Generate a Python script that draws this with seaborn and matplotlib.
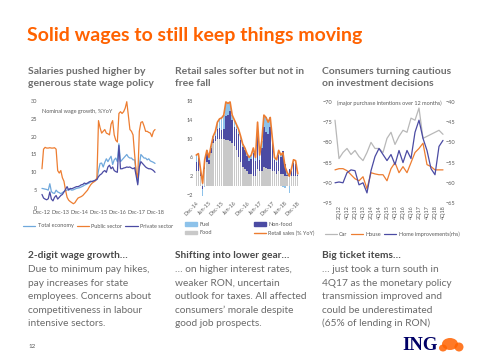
import numpy as np
import pandas as pd
import matplotlib
matplotlib.use("Agg")
import matplotlib.pyplot as plt
import seaborn as sns
from matplotlib.lines import Line2D
from matplotlib.patches import Patch, Ellipse

sns.set_theme(style="white")
plt.rcParams['font.family'] = ['Lato', 'DejaVu Sans']

# ---------------- data ----------------
# Chart 1: nominal wage growth, %YoY, monthly Dec-12 .. Dec-18
wage_ticks = ["Dec-12", "Dec-13", "Dec-14", "Dec-15", "Dec-16", "Dec-17", "Dec-18"]
total_economy = [5.5, 5.4, 5.3, 5.2, 5.0, 6.8, 4.6, 4.2, 4.1, 5.0, 4.5, 4.3, 4.0, 4.3, 4.6, 4.8,
                 5.0, 5.3, 5.2, 5.0, 5.1, 5.3, 5.5, 5.6, 5.7, 5.9, 6.1, 6.4, 6.6, 6.8, 7.0, 7.3,
                 7.5, 7.6, 7.8, 8.0, 10.5, 12.5, 12.6, 11.5, 12.8, 13.8, 13.0, 13.8, 14.5, 12.2,
                 13.5, 14.0, 13.0, 18.0, 13.0, 13.5, 14.0, 14.5, 15.0, 14.3, 14.0, 14.0, 13.5,
                 13.5, 10.0, 7.0, 12.0, 15.0, 14.5, 14.0, 14.0, 13.5, 13.8, 13.2, 13.0, 12.8, 12.5]
public_sector = [11.0, 16.5, 17.0, 16.8, 16.8, 16.9, 16.8, 16.8, 16.9, 16.5, 10.5, 9.8, 10.5, 8.5,
                 7.5, 5.0, 3.0, 2.2, 1.8, 1.5, 1.2, 1.5, 2.2, 2.8, 3.0, 3.2, 3.5, 4.0, 4.5, 5.0,
                 5.8, 6.5, 7.0, 7.3, 7.6, 8.5, 24.5, 22.5, 21.0, 21.5, 22.0, 21.0, 20.8, 20.5,
                 23.5, 24.5, 20.5, 19.0, 18.5, 26.5, 27.0, 26.5, 27.0, 28.0, 29.8, 26.0, 22.0,
                 21.5, 20.5, 15.0, 10.0, 8.5, 21.5, 24.0, 24.2, 23.0, 21.5, 21.5, 21.2, 21.0,
                 20.0, 21.5, 22.0]
private_sector = [3.8, 2.8, 2.5, 2.3, 2.6, 4.5, 2.5, 2.0, 3.0, 3.5, 2.5, 3.0, 3.5, 3.8, 4.5, 5.2,
                  6.0, 5.0, 5.5, 5.4, 5.6, 5.8, 6.0, 6.0, 6.2, 6.5, 6.6, 7.0, 6.8, 7.0, 7.3, 7.5,
                  7.4, 7.6, 7.8, 8.0, 8.8, 9.3, 9.6, 10.2, 10.5, 10.0, 11.5, 12.0, 11.0, 11.5,
                  10.5, 10.2, 10.0, 17.5, 11.0, 11.0, 11.2, 11.3, 11.5, 11.4, 11.5, 11.2, 11.0,
                  11.3, 9.0, 6.5, 11.5, 13.0, 12.5, 12.0, 11.5, 11.2, 11.0, 11.0, 10.8, 10.5, 10.0]
wage_series = ["Total economy", "Public sector", "Private sector"]

# Chart 2: retail sales contributions, monthly Dec-14 .. Dec-18
retail_ticks = ["Dec-14", "Jun-15", "Dec-15", "Jun-16", "Dec-16", "Jun-17", "Dec-17", "Jun-18", "Dec-18"]
food = [3.0, 3.0, 2.0, 1.0, 3.5, 5.0, 4.5, 7.0, 9.0, 9.5, 10.0, 10.0, 10.0, 10.0, 9.8, 9.8, 9.5,
        9.0, 8.5, 7.5, 6.0, 5.0, 4.0, 3.5, 3.0, 2.5, 2.5, 2.0, 2.0, 3.5, 3.0, 3.0, 4.0, 3.8, 3.5,
        3.5, 3.0, 3.0, 2.5, 3.0, 2.5, 2.5, 2.0, 2.0, 2.0, 2.0, 2.0, 2.0, 2.0]
non_food = [2.0, 2.8, 1.5, -0.8, 1.5, 2.0, 1.0, 1.0, 1.0, 1.0, 2.0, 2.2, 1.9, 2.0, 5.0, 5.2, 6.3,
            5.0, 4.0, 4.5, 5.0, 4.7, 4.3, 4.0, 3.3, 2.7, 3.2, 5.0, 3.2, 8.0, 2.5, 5.0, 8.5, 7.7,
            7.5, 9.0, 6.0, 2.5, 2.5, 3.5, 3.5, 4.8, 2.5, 0.3, 1.5, 1.2, 2.7, 2.5, 0.2]
fuel = [1.5, 1.0, 0.0, -1.8, -0.3, 0.5, 0.5, 0.5, 0.5, 1.0, 1.5, 2.0, 2.5, 3.0, 3.0, 2.5, 2.0,
        1.0, 1.5, 1.0, 1.0, 0.8, 0.5, 0.5, 0.5, 0.8, 0.8, 1.0, 0.8, 2.0, 1.0, 1.5, 2.5, 3.0, 2.5,
        2.0, 1.0, 0.5, 0.5, 1.0, 0.5, -0.3, -0.5, 0.5, -1.5, 0.3, 0.8, 0.8, 0.3]
retail_sales = [6.5, 6.8, 3.5, 0.5, 5.5, 7.5, 6.0, 8.5, 10.5, 11.5, 13.5, 14.2, 14.4, 15.0, 17.8,
                17.5, 17.8, 15.0, 14.0, 13.0, 12.0, 10.5, 8.8, 8.0, 6.8, 6.0, 6.5, 8.0, 6.0, 13.5,
                6.5, 9.5, 15.0, 14.5, 13.5, 14.5, 10.0, 6.0, 5.5, 7.5, 6.5, 7.0, 4.0, 2.8, 2.0,
                3.5, 5.5, 5.3, 2.5]

# Chart 3: major purchase intentions over 12 months, quarterly 1Q12 .. 4Q18
quarter_ticks = ["2Q12", "4Q12", "2Q13", "4Q13", "2Q14", "4Q14", "2Q15", "4Q15", "2Q16", "4Q16",
                 "2Q17", "4Q17", "2Q18", "4Q18"]
car = [-74.5, -84.0, -82.5, -81.5, -83.0, -82.0, -83.5, -84.5, -82.5, -80.0, -81.5, -81.5, -82.5,
       -79.0, -77.5, -80.5, -78.5, -77.0, -77.5, -74.0, -74.5, -71.5, -79.0, -78.5, -78.0, -77.5,
       -77.0, -78.0]
house = [-86.8, -86.5, -86.5, -87.0, -88.0, -89.0, -89.5, -88.5, -91.5, -87.5, -87.8, -88.0,
         -88.0, -89.5, -86.5, -85.0, -87.5, -86.0, -87.5, -85.0, -82.5, -81.5, -80.2, -85.5,
         -86.0, -86.8, -86.8, -86.8]
home_improvements = [-60.0, -59.8, -60.0, -57.5, -56.8, -57.0, -60.5, -60.0, -62.5, -57.0, -53.5,
                     -51.5, -53.0, -54.5, -53.0, -55.5, -52.0, -55.0, -52.0, -54.0, -47.5, -44.5,
                     -49.0, -52.0, -56.5, -58.0, -51.0, -49.5]

# ---------------- styling ----------------
ORANGE = "#FF6200"
C_LIGHT = "#6FA8DC"
C_ORANGE = "#ED7D31"
C_DARK = "#4B4BA3"
C_GREY = "#C9C9C9"
C_FUEL = "#8DC2EA"
C_CAR = "#B8B8B8"
TICK_C = "#5A5A5A"
TS = 4.0

W, H = 480, 360
fig = plt.figure(figsize=(4.8, 3.6), dpi=100)
fig.patch.set_facecolor("white")


def rect(l, t, r, b):
    return [l / W, 1 - b / H, (r - l) / W, (b - t) / H]


def ftext(x, y, s, **kw):
    kw.setdefault("va", "center")
    fig.text(x / W, 1 - y / H, s, **kw)


def clean(ax):
    for s in ax.spines.values():
        s.set_visible(False)
    ax.set_xlabel("")
    ax.set_ylabel("")
    ax.tick_params(labelsize=TS, length=0, pad=1.5, colors=TICK_C)
    ax.set_facecolor("none")


# ---------------- texts ----------------
ftext(27, 36, "Solid wages to still keep things moving", color=ORANGE, fontsize=14.0,
      fontweight="bold")
sub_c = "#6E6E6E"
SUB = 7.5
ftext(28, 72, "Salaries pushed higher by", color=sub_c, fontsize=SUB, fontweight="bold")
ftext(28, 83.5, "generous state wage policy", color=sub_c, fontsize=SUB, fontweight="bold")
ftext(175, 72, "Retail sales softer but not in", color=sub_c, fontsize=SUB, fontweight="bold")
ftext(175, 83.5, "free fall", color=sub_c, fontsize=SUB, fontweight="bold")
ftext(322, 72, "Consumers turning cautious", color=sub_c, fontsize=SUB, fontweight="bold")
ftext(322, 83.5, "on investment decisions", color=sub_c, fontsize=SUB, fontweight="bold")

head_c = "#4A4A4A"
body_c = "#6A6A6A"
cols = [
    (28, "2-digit wage growth…", ["Due to minimum pay hikes,", "pay increases for state",
                                  "employees. Concerns about", "competitiveness in labour",
                                  "intensive sectors."]),
    (175, "Shifting into lower gear…", ["… on higher interest rates,", "weaker RON, uncertain",
                                        "outlook for taxes. All affected",
                                        "consumers’ morale despite", "good job prospects."]),
    (322, "Big ticket items…", ["… just took a turn south in", "4Q17 as the monetary policy",
                                "transmission improved and", "could be underestimated",
                                "(65% of lending in RON)"]),
]
for x0, head, lines in cols:
    ftext(x0, 256, head, color=head_c, fontsize=7.3, fontweight="bold")
    for i, ln in enumerate(lines):
        ftext(x0, 270 + 13.4 * i, ln, color=body_c, fontsize=7.3)

ftext(28, 347, "12", color="#555555", fontsize=4.5)
ftext(402, 346, "ING", color="#000066", fontsize=13.5, fontweight="bold",
      family=["Liberation Serif", "DejaVu Serif"])
for (cx, cy, w, h) in [(450, 344, 16, 12), (459, 347, 9, 9), (443, 348, 8, 7)]:
    fig.patches.append(Ellipse((cx / W, 1 - cy / H), w / W, h / H, transform=fig.transFigure,
                               facecolor="#FF6200", edgecolor="none", alpha=0.85))

# ---------------- chart 1 ----------------
ax1 = fig.add_axes(rect(40.4, 101, 156.6, 208))
n1 = len(total_economy)
months = np.arange(n1)
df1 = pd.DataFrame({
    "month": np.tile(months, 3),
    "value": np.concatenate([total_economy, public_sector, private_sector]),
    "series": np.repeat(wage_series, n1),
})
pal1 = {"Total economy": C_LIGHT, "Public sector": C_ORANGE, "Private sector": C_DARK}
sns.lineplot(data=df1, x="month", y="value", hue="series", hue_order=wage_series,
             palette=pal1, linewidth=0.9, ax=ax1, legend=False)
ax1.set_xlim(-1, 73)
ax1.set_ylim(0, 30)
ax1.set_yticks(range(0, 31, 5))
ax1.set_xticks(range(0, 73, 12))
ax1.set_xticklabels(wage_ticks)
clean(ax1)
ax1.tick_params(axis="y", pad=2.5)
ax1.text(0.01, 0.9, "Nominal wage growth, %YoY", transform=ax1.transAxes, fontsize=TS,
         color=TICK_C, va="center")
h1 = [Line2D([], [], color=pal1[s], lw=0.9) for s in wage_series]
fig.legend(h1, wage_series, loc="center", bbox_to_anchor=(98 / W, 1 - 226 / H), ncol=3,
           fontsize=TS, frameon=False, handlelength=2.2, columnspacing=0.6, handletextpad=0.4,
           labelcolor=TICK_C)

# ---------------- chart 2 ----------------
ax2 = fig.add_axes(rect(195, 99.6, 299, 195.9))
n2 = len(retail_sales)
xm = np.arange(n2)
pos_base = np.zeros(n2)
neg_base = np.zeros(n2)
for vals, color in [(food, C_GREY), (non_food, C_DARK), (fuel, C_FUEL)]:
    v = np.asarray(vals, dtype=float)
    bottom = np.where(v >= 0, pos_base, neg_base)
    ax2.bar(xm, v, bottom=bottom, width=0.72, color=color, linewidth=0)
    pos_base += np.where(v >= 0, v, 0)
    neg_base += np.where(v < 0, v, 0)
sns.lineplot(x=xm, y=retail_sales, color=C_ORANGE, linewidth=1.2, ax=ax2)
ax2.set_xlim(-0.6, n2 - 0.4)
ax2.set_ylim(-2.2, 18.3)
ax2.set_yticks([-2, 2, 6, 10, 14, 18])
ax2.set_xticks(range(0, n2, 6))
ax2.set_xticklabels(retail_ticks, rotation=45, ha="right", rotation_mode="anchor")
clean(ax2)
ax2.tick_params(axis="x", pad=3)
h2 = [Patch(color=C_FUEL), Patch(color=C_GREY), Patch(color=C_DARK),
      Line2D([], [], color=C_ORANGE, lw=1.0)]
fig.legend(h2, ["Fuel", "Food", "Non-food", "Retail sales (% YoY)"], loc="upper left",
           bbox_to_anchor=(180 / W, 1 - 217 / H), ncol=2, fontsize=TS, frameon=False,
           handlelength=2.2, handleheight=0.6, columnspacing=7.5, handletextpad=0.4,
           labelspacing=0.6, labelcolor=TICK_C)

# ---------------- chart 3 ----------------
ax3 = fig.add_axes(rect(334, 102, 444, 203))
nq = len(car)
qx = np.arange(nq)
sns.lineplot(x=qx, y=car, color=C_CAR, linewidth=0.9, ax=ax3)
sns.lineplot(x=qx, y=house, color=C_ORANGE, linewidth=0.9, ax=ax3)
ax3.set_xlim(-0.25, nq - 0.75)
ax3.set_ylim(-95, -70)
ax3.set_yticks(range(-95, -69, 5))
ax3.set_xticks(range(1, nq, 2))
ax3.set_xticklabels(quarter_ticks, rotation=90)
clean(ax3)
ax3r = ax3.twinx()
sns.lineplot(x=qx, y=home_improvements, color=C_DARK, linewidth=0.9, ax=ax3r)
ax3r.set_ylim(-65, -40)
ax3r.set_yticks(range(-65, -39, 5))
clean(ax3r)
ax3.set_xlim(-0.25, nq - 0.75)
ax3.text(0.5, 0.985, "(major purchase intentions over 12 months)", transform=ax3.transAxes,
         fontsize=TS, color=TICK_C, ha="center", va="center")
h3 = [Line2D([], [], color=C_CAR, lw=0.9), Line2D([], [], color=C_ORANGE, lw=0.9),
      Line2D([], [], color=C_DARK, lw=0.9)]
fig.legend(h3, ["Car", "House", "Home improvements(rhs)"], loc="center",
           bbox_to_anchor=(392 / W, 1 - 234 / H), ncol=3, fontsize=TS, frameon=False,
           handlelength=2.2, columnspacing=0.6, handletextpad=0.4, labelcolor=TICK_C)

fig.savefig("out.png", dpi=100, facecolor="white")
